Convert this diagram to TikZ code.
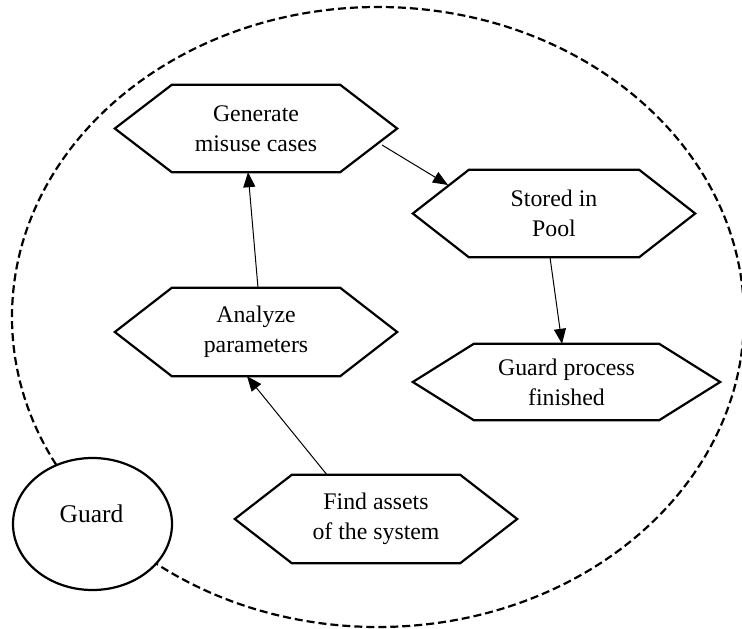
\documentclass[tikz,border=0pt]{standalone}
\usepackage{fontspec}
\setmainfont{Liberation Serif}
\usetikzlibrary{calc,shapes.geometric,arrows.meta}
\tikzset{
  hexlabel/.style={inner sep=0pt, font=\fontsize{23.8}{30}\selectfont, align=center},
  actorlabel/.style={inner sep=0pt, font=\fontsize{25.5}{30}\selectfont},
  hexline/.style={line width=2.2pt, line join=miter},
  conn/.style={line width=1pt, -{Triangle[length=15pt,width=12pt]}},
  sysbound/.style={draw, ellipse, line width=2.2pt, dash pattern=on 8pt off 4pt, inner sep=0pt},
  actor/.style={draw, ellipse, line width=2.2pt, fill=white, inner sep=0pt},
}
\newcommand{\hexnode}[7]{%
  \node[hexlabel, minimum width=#4pt, minimum height=#5pt] (#1) at (#2,#3) {#7};
  \draw[hexline] (#1.west) -- ($(#1.north west)+(#6,0)$) -- ($(#1.north east)+(-#6,0)$)
     -- (#1.east) -- ($(#1.south east)+(-#6,0)$) -- ($(#1.south west)+(#6,0)$) -- cycle;
}
\begin{document}
\begin{tikzpicture}[x=1pt,y=-1pt]
\useasboundingbox (0,0) rectangle (742,629);
\node[sysbound, minimum width=732pt, minimum height=620pt] (sys) at (378,317) {};
\hexnode{gen}{256}{128.5}{282}{87}{57}{Generate\\misuse cases}
\hexnode{sto}{554}{213.5}{282}{87}{56}{Stored in\\Pool}
\hexnode{ana}{256}{332}{282}{88}{57}{Analyze\\parameters}
\hexnode{gpf}{566.5}{382}{307}{76}{61}{Guard process\\finished}
\hexnode{fin}{376}{519}{282}{88}{57}{Find assets\\of the system}
\node[actor, minimum width=159pt, minimum height=132pt] (guard) at (92.5,524) {};
\node[actorlabel] (guardtext) at (91.5,513.5) {Guard};
\draw[conn] ($(gen.center)+(126,16.5)$) -- ($(sto.center)+(-106,-28.5)$);
\draw[conn] ($(sto.south)+(-4,0)$) -- ($(gpf.north)+(-4.5,0)$);
\draw[conn] ($(ana.north)+(2,0)$) -- ($(gen.south)+(-8,0)$);
\draw[conn] ($(fin.north)+(-49,0)$) -- ($(ana.south)+(-9,0)$);
\end{tikzpicture}
\end{document}
